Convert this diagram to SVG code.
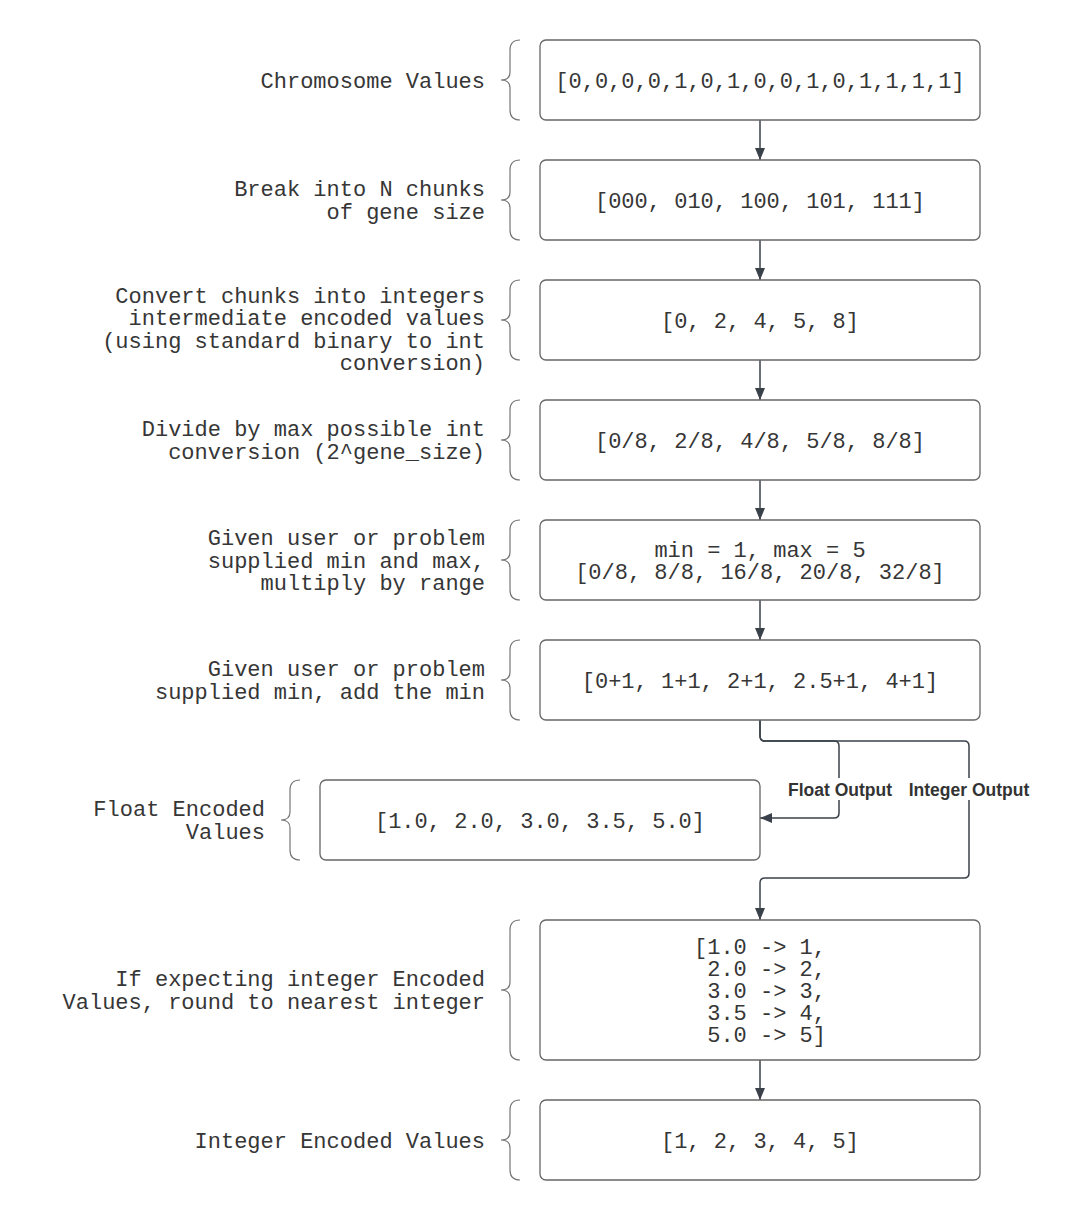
<svg xmlns="http://www.w3.org/2000/svg" width="1071" height="1220" viewBox="0 0 1071 1220">
<style>
  .bg { fill: #ffffff; }
  .box { fill: #ffffff; stroke: #666666; stroke-width: 1.3; }
  .brace { fill: none; stroke: #777777; stroke-width: 1.2; }
  .t { font-family: "Liberation Mono", "DejaVu Sans Mono", monospace; font-size: 22px; fill: #363636; }
  .lbl { text-anchor: end; }
  .ctr { text-anchor: middle; }
  .conn { fill: none; stroke: #3a414a; stroke-width: 1.5; }
  .el { font-family: "Liberation Sans", Arial, sans-serif; font-weight: bold; font-size: 17.5px; fill: #333333; text-anchor: middle; }
</style>
<defs>
  <marker id="arrow" viewBox="0 0 12 10" refX="12" refY="5" markerWidth="12" markerHeight="10" markerUnits="userSpaceOnUse" orient="auto">
    <path d="M0,0 L12,5 L0,10 Z" fill="#3a414a"/>
  </marker>
</defs>
<rect class="bg" x="0" y="0" width="1071" height="1220"/>

<g id="connectors">
  <path class="conn" d="M760,120 L760,160" marker-end="url(#arrow)"/>
  <path class="conn" d="M760,240 L760,280" marker-end="url(#arrow)"/>
  <path class="conn" d="M760,360 L760,400" marker-end="url(#arrow)"/>
  <path class="conn" d="M760,480 L760,520" marker-end="url(#arrow)"/>
  <path class="conn" d="M760,600 L760,640" marker-end="url(#arrow)"/>
  <path class="conn" d="M760,720 L760,736 Q760,741 765,741 L834,741 Q839,741 839,746 L839,813 Q839,818 834,818 L760,818" marker-end="url(#arrow)"/>
  <path class="conn" d="M760,720 L760,736 Q760,741 765,741 L964,741 Q969,741 969,746 L969,873 Q969,878 964,878 L765,878 Q760,878 760,883 L760,920" marker-end="url(#arrow)"/>
  <path class="conn" d="M760,1060 L760,1100" marker-end="url(#arrow)"/>
  <g id="edge-labels">
    <rect x="786" y="778" width="108" height="22" fill="#ffffff"/>
    <text class="el" x="840" y="795.5">Float Output</text>
    <rect x="906" y="778" width="126" height="22" fill="#ffffff"/>
    <text class="el" x="969" y="795.5">Integer Output</text>
  </g>
</g>

<g id="node-chromosome">
  <text class="t lbl" x="485" y="87.5">Chromosome Values</text>
  <path class="brace" d="M520,40 Q510,40 510,50 L510,72 Q510,80 501,80 Q510,80 510,88 L510,110 Q510,120 520,120"/>
  <rect class="box" x="540" y="40" width="440" height="80" rx="6"/>
  <text class="t ctr" x="760" y="87.5">[0,0,0,0,1,0,1,0,0,1,0,1,1,1,1]</text>
</g>

<g id="node-chunks">
  <text class="t lbl" x="485" y="196.25">Break into N chunks</text>
  <text class="t lbl" x="485" y="218.75">of gene size</text>
  <path class="brace" d="M520,160 Q510,160 510,170 L510,192 Q510,200 501,200 Q510,200 510,208 L510,230 Q510,240 520,240"/>
  <rect class="box" x="540" y="160" width="440" height="80" rx="6"/>
  <text class="t ctr" x="760" y="207.5">[000, 010, 100, 101, 111]</text>
</g>

<g id="node-integers">
  <text class="t lbl" x="485" y="302.75">Convert chunks into integers</text>
  <text class="t lbl" x="485" y="325.25">intermediate encoded values</text>
  <text class="t lbl" x="485" y="347.75">(using standard binary to int</text>
  <text class="t lbl" x="485" y="370.25">conversion)</text>
  <path class="brace" d="M520,280 Q510,280 510,290 L510,312 Q510,320 501,320 Q510,320 510,328 L510,350 Q510,360 520,360"/>
  <rect class="box" x="540" y="280" width="440" height="80" rx="6"/>
  <text class="t ctr" x="760" y="327.5">[0, 2, 4, 5, 8]</text>
</g>

<g id="node-divide">
  <text class="t lbl" x="485" y="436.25">Divide by max possible int</text>
  <text class="t lbl" x="485" y="458.75">conversion (2^gene_size)</text>
  <path class="brace" d="M520,400 Q510,400 510,410 L510,432 Q510,440 501,440 Q510,440 510,448 L510,470 Q510,480 520,480"/>
  <rect class="box" x="540" y="400" width="440" height="80" rx="6"/>
  <text class="t ctr" x="760" y="447.5">[0/8, 2/8, 4/8, 5/8, 8/8]</text>
</g>

<g id="node-range">
  <text class="t lbl" x="485" y="545">Given user or problem</text>
  <text class="t lbl" x="485" y="567.5">supplied min and max,</text>
  <text class="t lbl" x="485" y="590">multiply by range</text>
  <path class="brace" d="M520,520 Q510,520 510,530 L510,552 Q510,560 501,560 Q510,560 510,568 L510,590 Q510,600 520,600"/>
  <rect class="box" x="540" y="520" width="440" height="80" rx="6"/>
  <text class="t ctr" x="760" y="557">min = 1, max = 5</text>
  <text class="t ctr" x="760" y="579">[0/8, 8/8, 16/8, 20/8, 32/8]</text>
</g>

<g id="node-addmin">
  <text class="t lbl" x="485" y="676.25">Given user or problem</text>
  <text class="t lbl" x="485" y="698.75">supplied min, add the min</text>
  <path class="brace" d="M520,640 Q510,640 510,650 L510,672 Q510,680 501,680 Q510,680 510,688 L510,710 Q510,720 520,720"/>
  <rect class="box" x="540" y="640" width="440" height="80" rx="6"/>
  <text class="t ctr" x="760" y="687.5">[0+1, 1+1, 2+1, 2.5+1, 4+1]</text>
</g>

<g id="node-float">
  <text class="t lbl" x="265" y="816.25">Float Encoded</text>
  <text class="t lbl" x="265" y="838.75">Values</text>
  <path class="brace" d="M300,780 Q290,780 290,790 L290,812 Q290,820 281,820 Q290,820 290,828 L290,850 Q290,860 300,860"/>
  <rect class="box" x="320" y="780" width="440" height="80" rx="6"/>
  <text class="t ctr" x="540" y="827.5">[1.0, 2.0, 3.0, 3.5, 5.0]</text>
</g>

<g id="node-round">
  <text class="t lbl" x="485" y="986.25">If expecting integer Encoded</text>
  <text class="t lbl" x="485" y="1008.75">Values, round to nearest integer</text>
  <path class="brace" d="M520,920 Q510,920 510,930 L510,982 Q510,990 501,990 Q510,990 510,998 L510,1050 Q510,1060 520,1060"/>
  <rect class="box" x="540" y="920" width="440" height="140" rx="6"/>
  <text class="t" x="694" y="953.5">[1.0 -&gt; 1,</text>
  <text class="t" x="707.2" y="975.5">2.0 -&gt; 2,</text>
  <text class="t" x="707.2" y="997.5">3.0 -&gt; 3,</text>
  <text class="t" x="707.2" y="1019.5">3.5 -&gt; 4,</text>
  <text class="t" x="707.2" y="1041.5">5.0 -&gt; 5]</text>
</g>

<g id="node-integer-values">
  <text class="t lbl" x="485" y="1147.5">Integer Encoded Values</text>
  <path class="brace" d="M520,1100 Q510,1100 510,1110 L510,1132 Q510,1140 501,1140 Q510,1140 510,1148 L510,1170 Q510,1180 520,1180"/>
  <rect class="box" x="540" y="1100" width="440" height="80" rx="6"/>
  <text class="t ctr" x="760" y="1147.5">[1, 2, 3, 4, 5]</text>
</g>
</svg>
